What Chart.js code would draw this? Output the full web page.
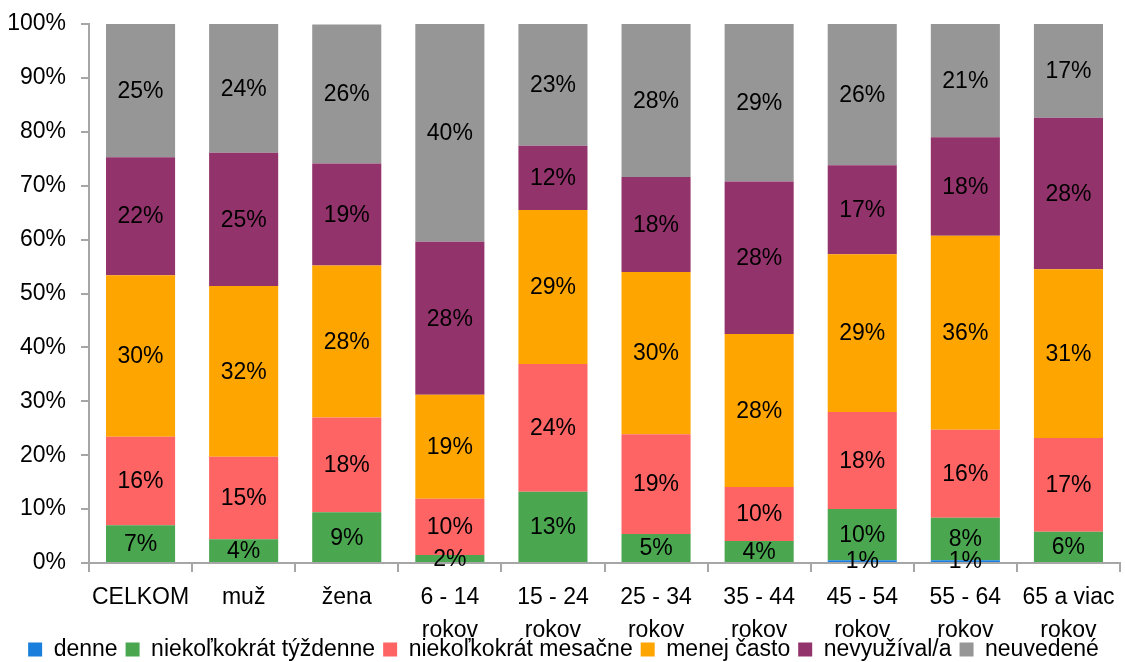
<!DOCTYPE html>
<html>
<head>
<meta charset="utf-8">
<script src="https://cdn.jsdelivr.net/npm/chart.js@4/dist/chart.umd.min.js"></script>
<style>
  html, body { margin: 0; padding: 0; background: #fff; }
  #wrap { width: 1125px; height: 662px; }
</style>
</head>
<body>
<div id="wrap"><canvas id="chart"></canvas></div>
<script>
// Kategórie a hodnoty (v %)
const categories = ['CELKOM', 'muž', 'žena', ['6 - 14', 'rokov'], ['15 - 24', 'rokov'], ['25 - 34', 'rokov'],
    ['35 - 44', 'rokov'], ['45 - 54', 'rokov'], ['55 - 64', 'rokov'], ['65 a viac', 'rokov']];
const denne       = [0, 0, 0, 0, 0, 0, 0, 0.5, 0.5, 0];
const tyzdenne    = [7, 4.4, 9.4, 1.5, 13.2, 5.4, 4.1, 9.5, 7.9, 5.8];
const mesacne     = [16.4, 15.3, 17.6, 10.4, 23.7, 18.5, 10, 18, 16.3, 17.4];
const menejCasto  = [30, 31.7, 28.2, 19.3, 28.6, 30.1, 28.4, 29.3, 36, 31.3];
const nevyuzival  = [21.9, 24.7, 18.9, 28.4, 11.9, 17.6, 28.3, 16.5, 18.3, 28.1];
const neuvedene   = [24.7, 23.9, 25.8, 40.4, 22.6, 28.4, 29.2, 26.2, 21, 17.4];
const yTicks = [0, 10, 20, 30, 40, 50, 60, 70, 80, 90, 100];

const FONT = "'Liberation Sans', Arial, sans-serif";
const FS = 23;

// Popisky hodnôt v strede segmentov
const valueLabels = {
    id: 'valueLabels',
    afterDatasetsDraw(chart) {
        const ctx = chart.ctx;
        ctx.save();
        ctx.font = FS + 'px ' + FONT;
        ctx.fillStyle = '#000';
        ctx.textAlign = 'center';
        ctx.textBaseline = 'middle';
        chart.data.datasets.forEach((ds, i) => {
            const meta = chart.getDatasetMeta(i);
            meta.data.forEach((bar, j) => {
                const v = ds.data[j];
                if (!v) return;
                const p = bar.getProps(['x', 'y', 'base'], true);
                ctx.fillText(Math.round(v) + '%', p.x, (p.y + p.base) / 2 + 1);
            });
        });
        ctx.restore();
    }
};

// Legenda sa v origináli prekrýva s druhým riadkom popisov osi x
const legendOverlap = {
    id: 'legendOverlap',
    afterLayout(chart) {
        const lg = chart.legend;
        lg.top -= 12;
        lg.height += 12;
    }
};

function ds(label, data, color) {
    return { label: label, data: data, backgroundColor: color, borderWidth: 0,
             barPercentage: 0.67, categoryPercentage: 1 };
}

new Chart(document.getElementById('chart'), {
    type: 'bar',
    data: {
        labels: categories,
        datasets: [
            ds('denne', denne, '#1a7fdc'),
            ds('niekoľkokrát týždenne', tyzdenne, '#4ba650'),
            ds('niekoľkokrát mesačne', mesacne, '#ff6464'),
            ds('menej často', menejCasto, '#ffa500'),
            ds('nevyužíval/a', nevyuzival, '#93336b'),
            ds('neuvedené', neuvedene, '#969696')
        ]
    },
    options: {
        responsive: true,
        maintainAspectRatio: false,
        animation: false,
        layout: { padding: { left: 7, right: 5, top: 0, bottom: 0 } },
        plugins: {
            legend: {
                position: 'bottom',
                maxHeight: 20,
                labels: {
                    font: { family: FONT, size: FS },
                    color: '#000',
                    boxWidth: 14,
                    boxHeight: 14,
                    padding: 8
                }
            },
            tooltip: { enabled: false }
        },
        scales: {
            x: {
                stacked: true,
                grid: { display: true, drawOnChartArea: false, color: '#a6a6a6', tickLength: 9, lineWidth: 2 },
                border: { color: '#a6a6a6', width: 2 },
                ticks: { font: { family: FONT, size: FS, lineHeight: 1.43 }, color: '#000', maxRotation: 0, padding: 9 },
                afterFit(scale) { scale.height = 79; }
            },
            y: {
                stacked: true,
                min: 0,
                max: 100,
                afterBuildTicks(scale) { scale.ticks = yTicks.map(v => ({ value: v })); },
                grid: { display: true, drawOnChartArea: false, color: '#a6a6a6', tickLength: 8, lineWidth: 2 },
                border: { color: '#a6a6a6', width: 2 },
                ticks: { font: { family: FONT, size: FS }, color: '#000', padding: 15,
                         callback: v => v + '%' },
                afterFit(scale) {
                    scale.width = 82;
                    scale.paddingTop = 24;
                }
            }
        }
    },
    plugins: [valueLabels, legendOverlap]
});
</script>
</body>
</html>
